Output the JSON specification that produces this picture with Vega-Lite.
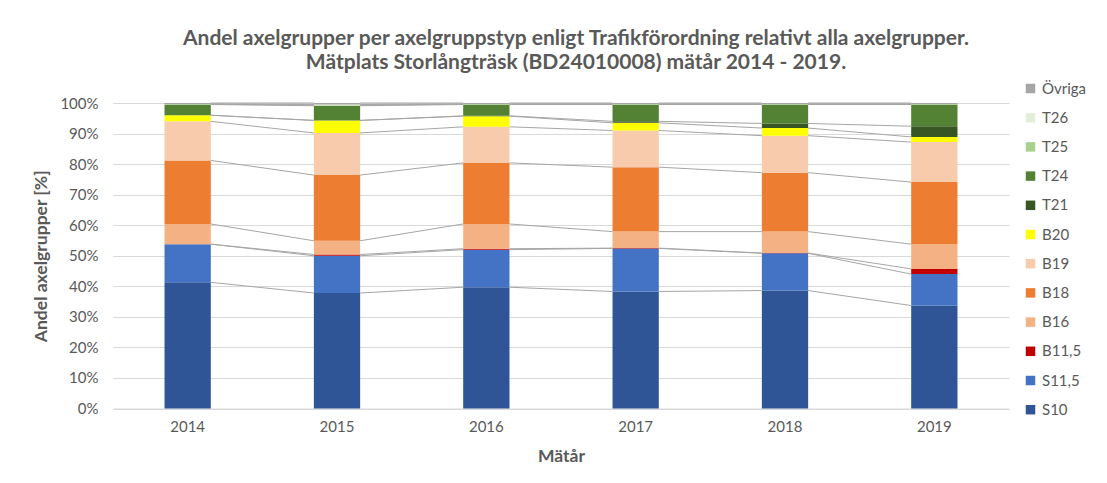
{
  "$schema": "https://vega.github.io/schema/vega-lite/v6.json",
  "width": 896,
  "height": 305.5,
  "autosize": "none",
  "padding": {"left": 113, "top": 103, "right": 98, "bottom": 74.5},
  "background": "white",
  "config": {"font": "Lato", "view": {"stroke": null}},
  "title": {
    "text": ["Andel axelgrupper per axelgruppstyp enligt Trafikförordning relativt alla axelgrupper.", "Mätplats Storlångträsk (BD24010008) mätår 2014 - 2019."],
    "fontSize": 21,
    "fontWeight": "bold",
    "color": "#595959",
    "anchor": "middle",
    "dx": 15,
    "offset": 8,
    "lineHeight": 24
  },
  "data": {
    "values": [
      {"year": 2014, "grp": "S10", "ord": 1, "value": 41.3},
      {"year": 2014, "grp": "S11,5", "ord": 2, "value": 12.5},
      {"year": 2014, "grp": "B11,5", "ord": 3, "value": 0.0},
      {"year": 2014, "grp": "B16", "ord": 4, "value": 6.6},
      {"year": 2014, "grp": "B18", "ord": 5, "value": 20.8},
      {"year": 2014, "grp": "B19", "ord": 6, "value": 12.8},
      {"year": 2014, "grp": "B20", "ord": 7, "value": 2.0},
      {"year": 2014, "grp": "T21", "ord": 8, "value": 0.0},
      {"year": 2014, "grp": "T24", "ord": 9, "value": 3.5},
      {"year": 2014, "grp": "T25", "ord": 10, "value": 0.1},
      {"year": 2014, "grp": "T26", "ord": 11, "value": 0.1},
      {"year": 2014, "grp": "Övriga", "ord": 12, "value": 0.3},

      {"year": 2015, "grp": "S10", "ord": 1, "value": 37.8},
      {"year": 2015, "grp": "S11,5", "ord": 2, "value": 12.2},
      {"year": 2015, "grp": "B11,5", "ord": 3, "value": 0.4},
      {"year": 2015, "grp": "B16", "ord": 4, "value": 4.5},
      {"year": 2015, "grp": "B18", "ord": 5, "value": 21.5},
      {"year": 2015, "grp": "B19", "ord": 6, "value": 13.8},
      {"year": 2015, "grp": "B20", "ord": 7, "value": 4.1},
      {"year": 2015, "grp": "T21", "ord": 8, "value": 0.0},
      {"year": 2015, "grp": "T24", "ord": 9, "value": 4.8},
      {"year": 2015, "grp": "T25", "ord": 10, "value": 0.2},
      {"year": 2015, "grp": "T26", "ord": 11, "value": 0.2},
      {"year": 2015, "grp": "Övriga", "ord": 12, "value": 0.5},

      {"year": 2016, "grp": "S10", "ord": 1, "value": 39.7},
      {"year": 2016, "grp": "S11,5", "ord": 2, "value": 12.3},
      {"year": 2016, "grp": "B11,5", "ord": 3, "value": 0.3},
      {"year": 2016, "grp": "B16", "ord": 4, "value": 8.1},
      {"year": 2016, "grp": "B18", "ord": 5, "value": 20.0},
      {"year": 2016, "grp": "B19", "ord": 6, "value": 11.8},
      {"year": 2016, "grp": "B20", "ord": 7, "value": 3.5},
      {"year": 2016, "grp": "T21", "ord": 8, "value": 0.1},
      {"year": 2016, "grp": "T24", "ord": 9, "value": 3.7},
      {"year": 2016, "grp": "T25", "ord": 10, "value": 0.1},
      {"year": 2016, "grp": "T26", "ord": 11, "value": 0.1},
      {"year": 2016, "grp": "Övriga", "ord": 12, "value": 0.3},

      {"year": 2017, "grp": "S10", "ord": 1, "value": 38.3},
      {"year": 2017, "grp": "S11,5", "ord": 2, "value": 14.1},
      {"year": 2017, "grp": "B11,5", "ord": 3, "value": 0.1},
      {"year": 2017, "grp": "B16", "ord": 4, "value": 5.4},
      {"year": 2017, "grp": "B18", "ord": 5, "value": 21.1},
      {"year": 2017, "grp": "B19", "ord": 6, "value": 12.0},
      {"year": 2017, "grp": "B20", "ord": 7, "value": 2.5},
      {"year": 2017, "grp": "T21", "ord": 8, "value": 0.5},
      {"year": 2017, "grp": "T24", "ord": 9, "value": 5.5},
      {"year": 2017, "grp": "T25", "ord": 10, "value": 0.1},
      {"year": 2017, "grp": "T26", "ord": 11, "value": 0.1},
      {"year": 2017, "grp": "Övriga", "ord": 12, "value": 0.3},

      {"year": 2018, "grp": "S10", "ord": 1, "value": 38.6},
      {"year": 2018, "grp": "S11,5", "ord": 2, "value": 12.2},
      {"year": 2018, "grp": "B11,5", "ord": 3, "value": 0.1},
      {"year": 2018, "grp": "B16", "ord": 4, "value": 7.0},
      {"year": 2018, "grp": "B18", "ord": 5, "value": 19.3},
      {"year": 2018, "grp": "B19", "ord": 6, "value": 12.1},
      {"year": 2018, "grp": "B20", "ord": 7, "value": 2.5},
      {"year": 2018, "grp": "T21", "ord": 8, "value": 1.5},
      {"year": 2018, "grp": "T24", "ord": 9, "value": 6.2},
      {"year": 2018, "grp": "T25", "ord": 10, "value": 0.1},
      {"year": 2018, "grp": "T26", "ord": 11, "value": 0.1},
      {"year": 2018, "grp": "Övriga", "ord": 12, "value": 0.3},

      {"year": 2019, "grp": "S10", "ord": 1, "value": 33.7},
      {"year": 2019, "grp": "S11,5", "ord": 2, "value": 10.3},
      {"year": 2019, "grp": "B11,5", "ord": 3, "value": 1.7},
      {"year": 2019, "grp": "B16", "ord": 4, "value": 8.1},
      {"year": 2019, "grp": "B18", "ord": 5, "value": 20.3},
      {"year": 2019, "grp": "B19", "ord": 6, "value": 13.1},
      {"year": 2019, "grp": "B20", "ord": 7, "value": 1.7},
      {"year": 2019, "grp": "T21", "ord": 8, "value": 3.5},
      {"year": 2019, "grp": "T24", "ord": 9, "value": 7.1},
      {"year": 2019, "grp": "T25", "ord": 10, "value": 0.1},
      {"year": 2019, "grp": "T26", "ord": 11, "value": 0.1},
      {"year": 2019, "grp": "Övriga", "ord": 12, "value": 0.3}
    ]
  },
  "layer": [
    {
      "mark": {"type": "bar"},
      "encoding": {
        "x": {
          "field": "year",
          "type": "ordinal",
          "scale": {"paddingInner": 0.69, "paddingOuter": 0.345},
          "axis": {
            "title": "Mätår",
            "labelAngle": 0,
            "domainColor": "#D9D9D9",
            "ticks": false,
            "labelPadding": 11,
            "labelFontSize": 15,
            "labelColor": "#595959",
            "titleFontSize": 17.5,
            "titleFontWeight": "bold",
            "titleColor": "#595959",
            "titlePadding": 13
          }
        },
        "y": {
          "field": "value",
          "type": "quantitative",
          "stack": "zero",
          "scale": {"domain": [0, 100], "nice": false},
          "axis": {
            "title": "Andel axelgrupper [%]",
            "values": [0, 10, 20, 30, 40, 50, 60, 70, 80, 90, 100],
            "labelExpr": "datum.value + '%'",
            "labelOverlap": false,
            "grid": true,
            "gridColor": "#D9D9D9",
            "domain": false,
            "ticks": false,
            "labelPadding": 15,
            "labelFontSize": 15,
            "labelColor": "#595959",
            "titleFontSize": 17.5,
            "titleFontWeight": "bold",
            "titleColor": "#595959",
            "titlePadding": 9
          }
        },
        "color": {
          "field": "grp",
          "type": "nominal",
          "scale": {
            "domain": ["Övriga", "T26", "T25", "T24", "T21", "B20", "B19", "B18", "B16", "B11,5", "S11,5", "S10"],
            "range": ["#A5A5A5", "#E2F0D9", "#A9D18E", "#548235", "#375623", "#FFFF00", "#F8CBAD", "#ED7D31", "#F4B183", "#C00000", "#4472C4", "#2F5597"]
          },
          "legend": {
            "title": null,
            "orient": "none",
            "legendX": 910,
            "legendY": -22,
            "symbolType": "square",
            "symbolSize": 90,
            "symbolStrokeWidth": 0,
            "labelFontSize": 15,
            "labelColor": "#595959",
            "rowPadding": 13.2,
            "labelOffset": 4
          }
        },
        "order": {"field": "ord", "type": "quantitative"}
      }
    },
    {
      "transform": [
        {"stack": "value", "groupby": ["year"], "sort": [{"field": "ord", "order": "ascending"}], "as": ["y0", "y1"]},
        {"window": [{"op": "lead", "field": "y1", "as": "y1next"}, {"op": "lead", "field": "year", "as": "yearNext"}], "groupby": ["grp"], "sort": [{"field": "year", "order": "ascending"}]},
        {"filter": "datum.yearNext != null"}
      ],
      "mark": {"type": "rule", "color": "#A6A6A6", "strokeWidth": 1},
      "encoding": {
        "x": {"field": "year", "type": "ordinal", "bandPosition": 1},
        "x2": {"field": "yearNext", "bandPosition": 0},
        "y": {
          "field": "y1",
          "type": "quantitative",
          "axis": {
            "title": "Andel axelgrupper [%]",
            "values": [0, 10, 20, 30, 40, 50, 60, 70, 80, 90, 100],
            "labelExpr": "datum.value + '%'",
            "labelOverlap": false,
            "grid": true,
            "gridColor": "#D9D9D9",
            "domain": false,
            "ticks": false,
            "labelPadding": 15,
            "labelFontSize": 15,
            "labelColor": "#595959",
            "titleFontSize": 17.5,
            "titleFontWeight": "bold",
            "titleColor": "#595959",
            "titlePadding": 9
          }
        },
        "y2": {"field": "y1next"}
      }
    }
  ]
}
